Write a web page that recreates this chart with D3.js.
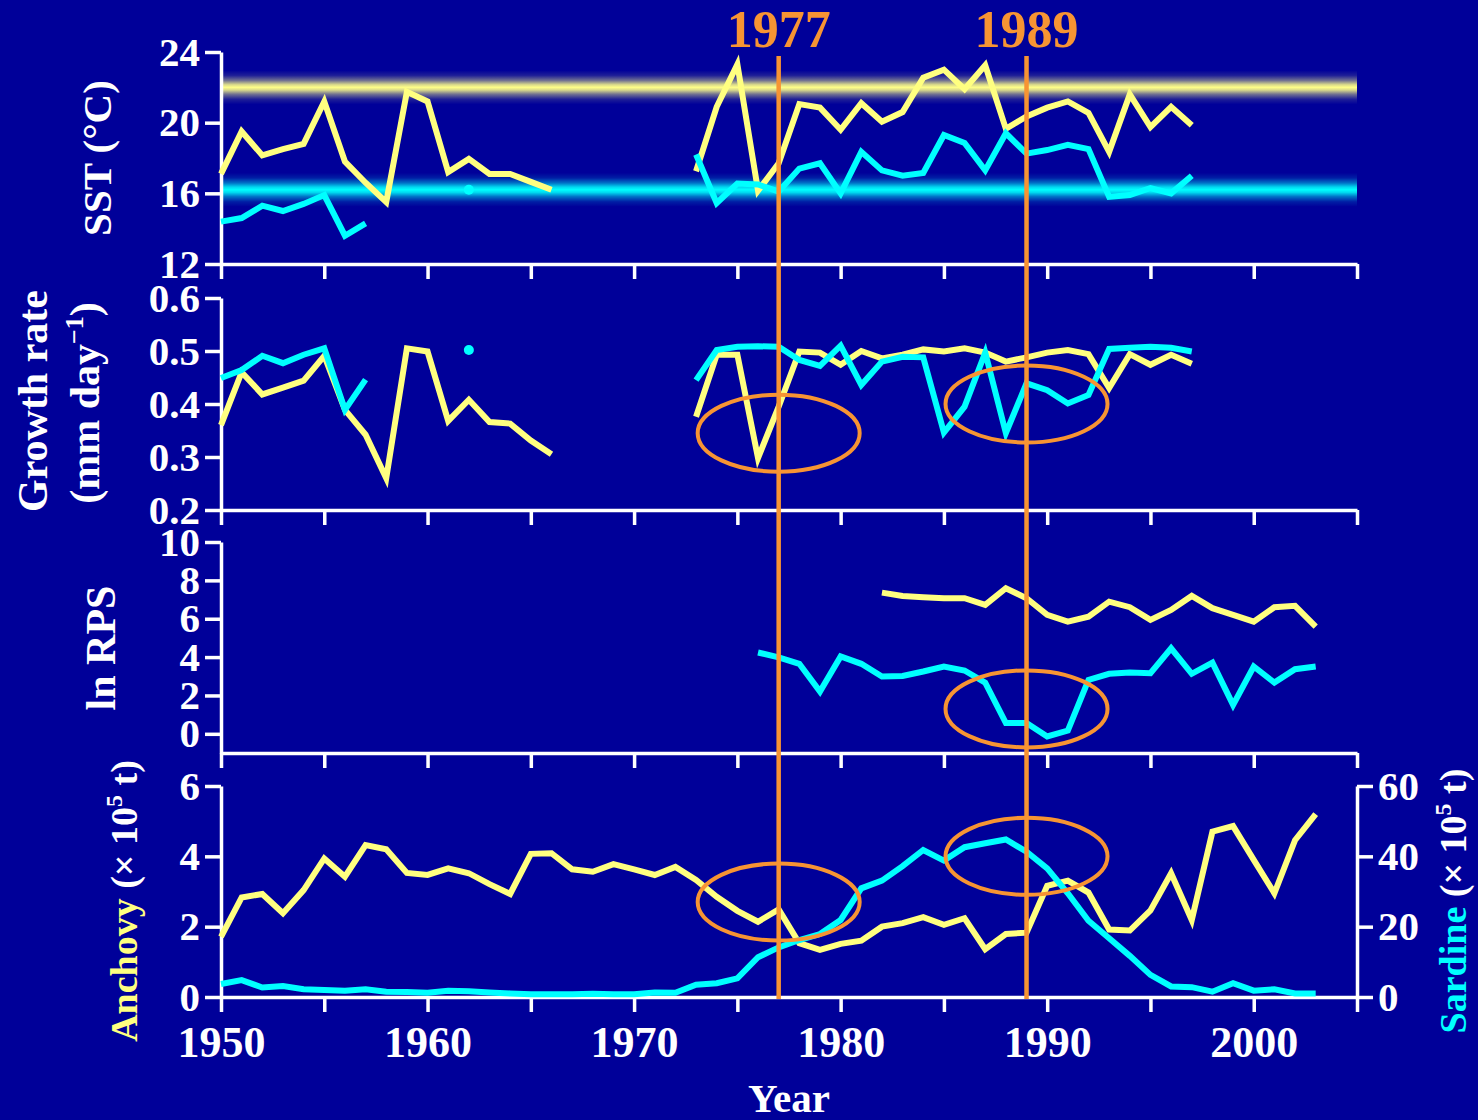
<!DOCTYPE html>
<html>
<head>
<meta charset="utf-8">
<script src="https://cdn.jsdelivr.net/npm/d3@7"></script>
<style>
  html, body { margin: 0; padding: 0; background: #000099; }
  svg { display: block; }
  text { font-family: "Liberation Serif", "Times New Roman", serif; font-weight: bold; }
</style>
</head>
<body>
<svg id="chart" width="1478" height="1120"></svg>
<script>
// Years covered by the series (one value per year, null = no data)
const years = d3.range(1950, 2004);

// Sea surface temperature (°C) during spawning
const sstAnchovy = [
  17.1, 19.5, 18.15, 18.5, 18.8, 21.2, 17.8, 16.6, 15.5, 21.75,
  21.2, 17.2, 17.95, 17.1, 17.1, 16.65, 16.2, null, null, null,
  null, null, null, 17.25, 20.9, 23.3, 16.15, 17.7, 21.05, 20.85,
  19.6, 21.1, 20.05, 20.6, 22.55, 23.0, 21.9, 23.25, 19.65, 20.35,
  20.85, 21.2, 20.55, 18.35, 21.6, 19.75, 20.9, 19.85, null, null,
  null, null, null, null
];
const sstSardine = [
  14.4, 14.6, 15.3, 15.0, 15.4, 15.9, 13.6, 14.3, null, null,
  null, null, 16.2, null, null, null, null, null, null, null,
  null, null, null, 18.2, 15.45, 16.55, 16.5, 16.1, 17.4, 17.7,
  16.0, 18.35, 17.3, 17.0, 17.15, 19.3, 18.85, 17.3, 19.4, 18.25,
  18.45, 18.75, 18.5, 15.8, 15.9, 16.3, 16.0, 17.0, null, null,
  null, null, null, null
];
// Optimal spawning temperature bands (°C)
const sstOptimum = [
  { species: "anchovy", value: 22.0 },
  { species: "sardine", value: 16.2 }
];

// Larval growth rate (mm day^-1)
const growthAnchovy = [
  0.36, 0.46, 0.418, 0.431, 0.444, 0.491, 0.389, 0.342, 0.26, 0.505,
  0.499, 0.368, 0.408, 0.366, 0.363, 0.331, 0.305, null, null, null,
  null, null, null, 0.376, 0.493, 0.493, 0.298, 0.395, 0.499, 0.497,
  0.474, 0.5, 0.486, 0.493, 0.503, 0.499, 0.505, 0.497, 0.48, 0.488,
  0.497, 0.502, 0.494, 0.43, 0.494, 0.474, 0.493, 0.476, null, null,
  null, null, null, null
];
const growthSardine = [
  0.449, 0.464, 0.491, 0.477, 0.493, 0.505, 0.389, 0.446, null, null,
  null, null, 0.502, null, null, null, null, null, null, null,
  null, null, null, 0.445, 0.502, 0.508, 0.509, 0.508, 0.483, 0.472,
  0.51, 0.436, 0.48, 0.489, 0.488, 0.346, 0.395, 0.497, 0.345, 0.439,
  0.426, 0.401, 0.417, 0.504, 0.506, 0.508, 0.506, 0.499, null, null,
  null, null, null, null
];

// Log recruitment per spawning stock
const rpsAnchovy = [
  null, null, null, null, null, null, null, null, null, null,
  null, null, null, null, null, null, null, null, null, null,
  null, null, null, null, null, null, null, null, null, null,
  null, null, 7.36, 7.19, 7.12, 7.07, 7.07, 6.72, 7.59, 7.07,
  6.2, 5.85, 6.11, 6.89, 6.6, 5.94, 6.46, 7.19, 6.55, 6.2,
  5.85, 6.6, 6.67, 5.59
];
const rpsSardine = [
  null, null, null, null, null, null, null, null, null, null,
  null, null, null, null, null, null, null, null, null, null,
  null, null, null, null, null, null, 4.24, 3.99, 3.65, 2.2,
  4.03, 3.65, 2.99, 3.02, 3.25, 3.51, 3.3, 2.67, 0.56, 0.56,
  -0.14, 0.17, 2.81, 3.13, 3.2, 3.16, 4.46, 3.13, 3.71, 1.51,
  3.51, 2.67, 3.37, 3.51
];

// Catches (x 10^5 t)
const catchAnchovy = [
  1.71, 2.83, 2.93, 2.38, 3.04, 3.94, 3.42, 4.32, 4.2, 3.53,
  3.47, 3.66, 3.52, 3.21, 2.93, 4.07, 4.09, 3.63, 3.56, 3.78,
  3.63, 3.47, 3.7, 3.33, 2.85, 2.45, 2.14, 2.49, 1.53, 1.34,
  1.51, 1.6, 2.0, 2.1, 2.27, 2.05, 2.24, 1.36, 1.79, 1.83,
  3.16, 3.31, 2.97, 1.92, 1.89, 2.46, 3.52, 2.19, 4.7, 4.86,
  3.9, 2.95, 4.46, 5.2
];
const catchSardine = [
  3.7, 4.8, 2.7, 3.1, 2.2, 2.0, 1.8, 2.2, 1.5, 1.4,
  1.2, 1.8, 1.6, 1.3, 1.0, 0.8, 0.8, 0.8, 0.9, 0.8,
  0.8, 1.3, 1.2, 3.5, 3.9, 5.3, 11.3, 14.1, 16.2, 17.9,
  21.9, 30.9, 33.1, 37.2, 41.8, 38.8, 42.6, 43.7, 44.8, 41.3,
  36.6, 29.5, 21.7, 16.7, 11.7, 6.3, 3.0, 2.8, 1.5, 3.9,
  1.8, 2.2, 1.0, 1.0
];

// Regime shift years
const shiftYears = [1977, 1989];

// Tick values
const xTicks = d3.range(1950, 2006, 5);
const sstTicks = [12, 16, 20, 24];
const growthTicks = [0.2, 0.3, 0.4, 0.5, 0.6];
const rpsTicks = [0, 2, 4, 6, 8, 10];
const anchovyTicks = [0, 2, 4, 6];
const sardineTicks = [0, 20, 40, 60];

const BG = "#000099", YELLOW = "#FFFF80", CYAN = "#00FFFF", ORANGE = "#F79433", WHITE = "#FFFFFF";

const svg = d3.select("#chart");
svg.append("rect").attr("width", 1478).attr("height", 1120).attr("fill", BG);

const x = d3.scaleLinear().domain([1950, 2005]).range([221, 1357]);

const ySst = d3.scaleLinear().domain([12, 24]).range([264, 52]);
const yGrowth = d3.scaleLinear().domain([0.2, 0.6]).range([510, 298]);
const yRps = d3.scaleLinear().domain([-1, 10]).range([753, 542]);
const yAnch = d3.scaleLinear().domain([0, 6]).range([997, 786]);
const ySard = d3.scaleLinear().domain([0, 60]).range([997, 786]);

// Glowing optimum-temperature bands
const defs = svg.append("defs");
function bandGradient(id, color) {
  const g = defs.append("linearGradient").attr("id", id)
    .attr("x1", 0).attr("y1", 0).attr("x2", 0).attr("y2", 1);
  const stops = [[0, 0], [0.15, 0.12], [0.3, 0.45], [0.42, 0.85], [0.5, 1], [0.58, 0.85], [0.7, 0.45], [0.85, 0.12], [1, 0]];
  stops.forEach(([o, a]) => g.append("stop").attr("offset", o).attr("stop-color", color).attr("stop-opacity", a));
}
bandGradient("bandAnchovy", "#FFFF88");
bandGradient("bandSardine", "#00FFFF");

const bandHalf = 17;
svg.append("g").selectAll("rect").data(sstOptimum).join("rect")
  .attr("x", x(1950)).attr("width", x(2005) - x(1950))
  .attr("y", d => ySst(d.value) - bandHalf).attr("height", bandHalf * 2)
  .attr("fill", d => d.species === "anchovy" ? "url(#bandAnchovy)" : "url(#bandSardine)");

// Axes
function styleAxis(g, fontSize) {
  g.attr("font-family", '"Liberation Serif", "Times New Roman", serif')
   .attr("font-size", fontSize).attr("font-weight", "bold");
  g.select(".domain").attr("stroke", WHITE).attr("stroke-width", 3.5);
  g.selectAll(".tick line").attr("stroke", WHITE).attr("stroke-width", 3.5);
  g.selectAll(".tick text").attr("fill", WHITE);
}

const panels = [
  { y: ySst, ticks: sstTicks, fmt: d3.format("d"), bottom: 264, labels: false },
  { y: yGrowth, ticks: growthTicks, fmt: d3.format(".1f"), bottom: 510, labels: false },
  { y: yRps, ticks: rpsTicks, fmt: d3.format("d"), bottom: 753, labels: false },
  { y: yAnch, ticks: anchovyTicks, fmt: d3.format("d"), bottom: 997, labels: true }
];

const axesG = svg.append("g");
panels.forEach(p => {
  const xa = d3.axisBottom(x).tickValues(xTicks).tickSize(15).tickSizeOuter(0).tickPadding(14)
    .tickFormat(d => (p.labels && d % 10 === 0 && d <= 2000) ? d : "");
  axesG.append("g").attr("transform", `translate(0,${p.bottom})`).call(xa).call(g => styleAxis(g, 44));

  const ya = d3.axisLeft(p.y).tickValues(p.ticks).tickSize(16).tickSizeOuter(0).tickPadding(5).tickFormat(p.fmt);
  axesG.append("g").attr("transform", `translate(${x(1950)},0)`).call(ya).call(g => styleAxis(g, 41));
});
const ra = d3.axisRight(ySard).tickValues(sardineTicks).tickSize(16).tickSizeOuter(0).tickPadding(5).tickFormat(d3.format("d"));
axesG.append("g").attr("transform", `translate(${x(2005)},0)`).call(ra).call(g => styleAxis(g, 41));

// Series
function drawSeries(values, yScale, color) {
  const pts = years.map((yr, i) => ({ year: yr, v: values[i] }));
  const line = d3.line().defined(d => d.v != null).x(d => x(d.year)).y(d => yScale(d.v));
  svg.append("path").datum(pts).attr("d", line)
    .attr("fill", "none").attr("stroke", color).attr("stroke-width", 6)
    .attr("stroke-linejoin", "miter").attr("stroke-miterlimit", 10);
  const lone = pts.filter((d, i) => d.v != null &&
    (i === 0 || pts[i - 1].v == null) && (i === pts.length - 1 || pts[i + 1].v == null));
  svg.append("g").selectAll("circle").data(lone).join("circle")
    .attr("cx", d => x(d.year)).attr("cy", d => yScale(d.v)).attr("r", 5).attr("fill", color);
}

drawSeries(sstAnchovy, ySst, YELLOW);
drawSeries(sstSardine, ySst, CYAN);
drawSeries(growthAnchovy, yGrowth, YELLOW);
drawSeries(growthSardine, yGrowth, CYAN);
drawSeries(rpsAnchovy, yRps, YELLOW);
drawSeries(rpsSardine, yRps, CYAN);
drawSeries(catchAnchovy, yAnch, YELLOW);
drawSeries(catchSardine, ySard, CYAN);

// Regime shift markers
svg.append("g").selectAll("line").data(shiftYears).join("line")
  .attr("x1", d => x(d)).attr("x2", d => x(d))
  .attr("y1", 56).attr("y2", 999)
  .attr("stroke", ORANGE).attr("stroke-width", 4.5);
svg.append("g").selectAll("text").data(shiftYears).join("text")
  .attr("x", d => x(d)).attr("y", 47).attr("text-anchor", "middle")
  .attr("font-size", 52).attr("fill", ORANGE).text(d => d);

// Highlight rings around the responses
const rings = [
  { year: 1977, y: yGrowth, v: 0.345 },
  { year: 1989, y: yGrowth, v: 0.4 },
  { year: 1989, y: yRps, v: 1.3 },
  { year: 1977, y: yAnch, v: 2.7 },
  { year: 1989, y: yAnch, v: 4.0 }
];
svg.append("g").selectAll("ellipse").data(rings).join("ellipse")
  .attr("cx", d => x(d.year)).attr("cy", d => d.y(d.v))
  .attr("rx", 81).attr("ry", 38.5)
  .attr("fill", "none").attr("stroke", ORANGE).attr("stroke-width", 4);

// Axis titles
function vTitle(xPos, yPos, size) {
  return svg.append("text")
    .attr("transform", `translate(${xPos},${yPos}) rotate(-90)`)
    .attr("text-anchor", "middle").attr("font-size", size).attr("fill", WHITE);
}
vTitle(111, 158, 41).text("SST (°C)");
vTitle(47, 401, 42).text("Growth rate");
const gr = vTitle(99, 403, 42);
gr.append("tspan").text("(mm day");
gr.append("tspan").attr("font-size", 26).attr("dy", -16).text("−1");
gr.append("tspan").attr("dy", 16).text(")");
vTitle(115, 648, 42).text("ln RPS");

const an = vTitle(137, 901, 38);
an.append("tspan").attr("fill", YELLOW).text("Anchovy");
an.append("tspan").text(" (× 10");
an.append("tspan").attr("font-size", 24).attr("dy", -15).text("5");
an.append("tspan").attr("dy", 15).text(" t)");

const sa = vTitle(1466, 901, 38);
sa.append("tspan").attr("fill", CYAN).text("Sardine");
sa.append("tspan").text(" (× 10");
sa.append("tspan").attr("font-size", 24).attr("dy", -15).text("5");
sa.append("tspan").attr("dy", 15).text(" t)");

svg.append("text").attr("x", (x(1950) + x(2005)) / 2).attr("y", 1112)
  .attr("text-anchor", "middle").attr("font-size", 41).attr("fill", WHITE).text("Year");
</script>
</body>
</html>
